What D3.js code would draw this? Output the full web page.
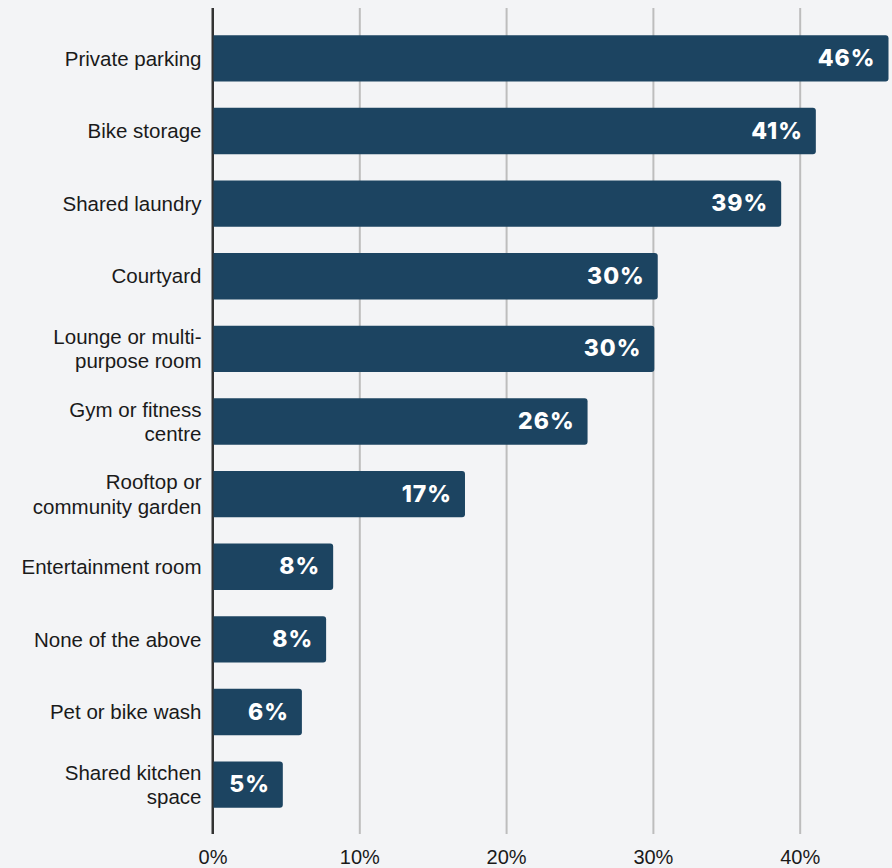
<!DOCTYPE html>
<html>
<head>
<meta charset="utf-8">
<script src="https://cdn.jsdelivr.net/npm/d3@7"></script>
<style>
  html, body { margin: 0; padding: 0; background: #f3f4f6; }
  svg { display: block; }
</style>
</head>
<body>
<svg id="chart" width="892" height="868"></svg>
<script>
// Amenity names, split into the lines they are set on
const amenityLines = [
  ["Private parking"],
  ["Bike storage"],
  ["Shared laundry"],
  ["Courtyard"],
  ["Lounge or multi-", "purpose room"],
  ["Gym or fitness", "centre"],
  ["Rooftop or", "community garden"],
  ["Entertainment room"],
  ["None of the above"],
  ["Pet or bike wash"],
  ["Shared kitchen", "space"]
];
// Share of respondents (%) for each amenity
const shares = [46.05, 41.1, 38.74, 30.33, 30.1, 25.55, 17.2, 8.22, 7.74, 6.09, 4.79];
// Gridline / axis tick values (%)
const tickValues = [0, 10, 20, 30, 40];

const amenities = amenityLines.map(l => l.join(" ").replace("- ", "-"));
const rows = amenities.map((name, i) => ({ name, lines: amenityLines[i], value: shares[i] }));

const svg = d3.select("#chart");
const plotLeft = 212.5, plotRight = 888.5, plotTop = 8, plotBottom = 834;

const x = d3.scaleLinear().domain([0, d3.max(shares)]).range([plotLeft, plotRight]);
const y = d3.scaleBand().domain(amenities).range([plotTop + 1, plotBottom]).paddingInner(0.36).paddingOuter(0.36);

// Vertical gridlines
const grid = svg.append("g")
  .attr("transform", `translate(0,${plotBottom})`)
  .call(d3.axisBottom(x).tickValues(tickValues).tickSize(-(plotBottom - plotTop)).tickFormat(""));
grid.select(".domain").remove();
grid.selectAll(".tick line")
  .attr("stroke", d => d === 0 ? "#333333" : "#bdbdbd")
  .attr("stroke-width", 2);

// Bars with rounded right-hand corners
const r = 3;
function barPath(d) {
  const x0 = x(0), x1 = x(d.value), y0 = y(d.name), h = y.bandwidth();
  return `M${x0},${y0}H${x1 - r}Q${x1},${y0} ${x1},${y0 + r}V${y0 + h - r}Q${x1},${y0 + h} ${x1 - r},${y0 + h}H${x0}Z`;
}
svg.append("g").selectAll("path")
  .data(rows)
  .join("path")
  .attr("d", barPath)
  .attr("fill", "#1c4461");

// Zero line drawn over the bars
svg.append("line")
  .attr("x1", x(0)).attr("x2", x(0))
  .attr("y1", plotTop).attr("y2", plotBottom)
  .attr("stroke", "#333333").attr("stroke-width", 2);

// Value labels inside the bar ends
svg.append("g").selectAll("text")
  .data(rows)
  .join("text")
  .attr("x", d => x(d.value) - 13)
  .attr("y", d => y(d.name) + y.bandwidth() / 2 + 7.6)
  .attr("text-anchor", "end")
  .attr("fill", "#ffffff")
  .style("font-family", "Inter, 'Open Sans', sans-serif")
  .style("font-weight", 800)
  .style("font-size", "23px")
  .style("letter-spacing", "1px")
  .text(d => Math.round(d.value) + "%");

// Category axis
const yAxis = svg.append("g")
  .attr("transform", `translate(${plotLeft},0)`)
  .call(d3.axisLeft(y).tickSize(0).tickPadding(11));
yAxis.select(".domain").remove();
yAxis.selectAll(".tick text")
  .style("font-family", "'Liberation Sans', Arial, sans-serif")
  .style("font-size", "20.5px")
  .attr("fill", "#1a1a1a")
  .attr("dy", null)
  .each(function(name) {
    const lines = rows.find(d => d.name === name).lines;
    const t = d3.select(this).text(null);
    const lh = 24.4;
    const first = 7.2 - (lines.length - 1) * lh / 2;
    lines.forEach((ln, i) => {
      t.append("tspan").attr("x", -11).attr("y", first + i * lh).text(ln);
    });
  });

// Percentage axis labels
const xAxis = svg.append("g")
  .attr("transform", `translate(0,${plotBottom})`)
  .call(d3.axisBottom(x).tickValues(tickValues).tickSize(0).tickPadding(16).tickFormat(d => d + "%"));
xAxis.select(".domain").remove();
xAxis.selectAll(".tick text")
  .style("font-family", "'Liberation Sans', Arial, sans-serif")
  .style("font-size", "20px")
  .attr("fill", "#1a1a1a");
</script>
</body>
</html>
